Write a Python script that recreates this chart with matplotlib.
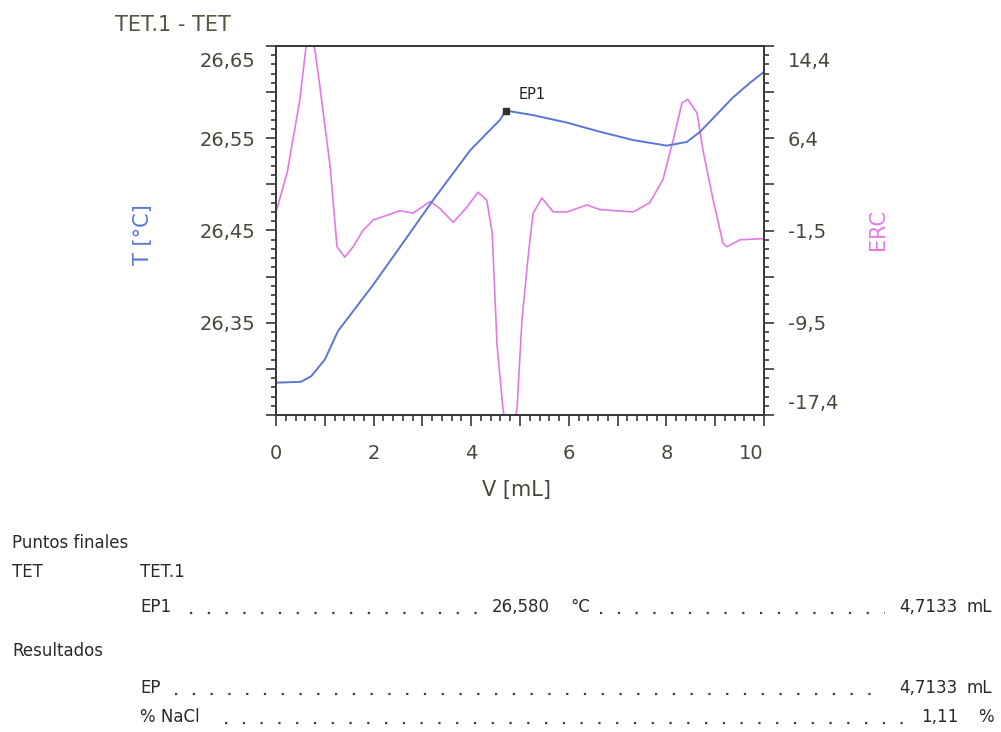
import numpy as np
import matplotlib
matplotlib.use('Agg')
import matplotlib.pyplot as plt
import matplotlib.transforms as mtransforms
from matplotlib.lines import Line2D
from matplotlib.ticker import FixedLocator, FixedFormatter, FuncFormatter, MultipleLocator, AutoMinorLocator

# temperature curve T [°C] vs volume V [mL]
vol_t = [0.0, 0.51, 0.72, 1.0, 1.27, 1.99, 2.54, 3.22, 3.98, 4.59, 4.7133,
         5.27, 5.96, 6.64, 7.32, 8.01, 8.42, 8.69, 9.36, 9.71, 10.0]
temp = [26.285, 26.286, 26.292, 26.310, 26.341, 26.391, 26.432, 26.483, 26.537, 26.570, 26.580,
        26.575, 26.567, 26.557, 26.548, 26.542, 26.546, 26.557, 26.594, 26.610, 26.622]

# ERC curve vs volume
vol_erc = [0.0, 0.23, 0.49, 0.66, 0.80, 0.90, 1.11, 1.25, 1.41, 1.58, 1.78, 1.99, 2.54, 2.81,
           3.16, 3.36, 3.63, 3.91, 4.14, 4.32, 4.43, 4.53, 4.65, 4.75, 4.84, 4.94, 5.04, 5.18,
           5.27, 5.45, 5.68, 5.96, 6.37, 6.64, 7.32, 7.66, 7.93, 8.14, 8.32, 8.44, 8.63, 8.75,
           8.96, 9.16, 9.24, 9.51, 10.0]
erc = [0.1, 3.5, 9.8, 16.0, 14.0, 10.9, 4.0, -2.9, -3.8, -2.9, -1.5, -0.6, 0.2, 0.0,
       1.0, 0.4, -0.8, 0.5, 1.8, 1.1, -1.7, -11.4, -16.8, -19.5, -19.5, -16.8, -9.2, -3.2,
       0.0, 1.3, 0.1, 0.1, 0.7, 0.3, 0.1, 0.9, 2.9, 6.3, 9.5, 9.8, 8.6, 5.4,
       1.1, -2.6, -2.9, -2.3, -2.2]

ep_vol = 4.7133
ep_temp = 26.580

t_ticks = [26.65, 26.55, 26.45, 26.35]
t_labels = ['26,65', '26,55', '26,45', '26,35']
erc_labels = ['14,4', '6,4', '-1,5', '-9,5', '-17,4']

W, H = 1001, 732


def fx(px):
    return px / W


def fy(py):
    return 1 - py / H


fig = plt.figure(figsize=(W / 100, H / 100), dpi=100)
fig.patch.set_facecolor('white')

ax = fig.add_axes([fx(276), fy(415), (764 - 276) / W, (415 - 46) / H])
ax2 = ax.twinx()
ax.set_zorder(ax2.get_zorder() + 1)
ax.patch.set_visible(False)

blue = '#5b77d6'
pink = '#e27ae6'
txt = '#4a473a'
spine_c = '#3a3a3a'

ax2.plot(vol_erc, erc, color=pink, lw=1.2)
ax.plot(vol_t, temp, color=blue, lw=1.4)
ax.plot([ep_vol], [ep_temp], marker='s', ms=5, color='#2e2e2e', zorder=5)
ax.annotate('EP1', (ep_vol, ep_temp), xytext=(9, 8), textcoords='offset points',
            fontsize=10.5, color='#222222')

ax.set_xlim(0, 10)
ax.set_ylim(26.25, 26.65)
ax2.set_ylim(-17.4, 14.4)

# x axis: long ticks every 1 mL, labels on even values
ax.xaxis.set_major_locator(MultipleLocator(1))
ax.xaxis.set_minor_locator(MultipleLocator(0.2))
ax.xaxis.set_major_formatter(FuncFormatter(
    lambda v, p: '%d' % round(v) if round(v) % 2 == 0 else ''))

# left axis: long ticks every 0.05, labels every 0.1
left_pos = np.linspace(26.25, 26.65, 9)
ax.yaxis.set_major_locator(FixedLocator(left_pos))
ax.yaxis.set_minor_locator(AutoMinorLocator(5))
left_lab = []
for v in left_pos:
    hit = [l for t, l in zip(t_ticks, t_labels) if abs(t - v) < 1e-6]
    left_lab.append(hit[0] if hit else '')
ax.yaxis.set_major_formatter(FixedFormatter(left_lab))

# right axis
ax2.yaxis.set_major_locator(FixedLocator(np.linspace(-17.4, 14.4, 9)))
ax2.yaxis.set_minor_locator(AutoMinorLocator(5))
right_lab = []
for i in range(9):
    right_lab.append(erc_labels[::-1][i // 2] if i % 2 == 0 else '')
ax2.yaxis.set_major_formatter(FixedFormatter(right_lab))

for a in (ax, ax2):
    for s in a.spines.values():
        s.set_color(spine_c)
        s.set_linewidth(1.4)
ax.tick_params(axis='x', which='major', direction='out', length=8, width=1.2,
               color=spine_c, labelsize=14, labelcolor=txt, pad=13)
ax.tick_params(axis='x', which='minor', direction='out', length=4.5, width=1.2, color=spine_c)
ax.tick_params(axis='y', which='major', direction='out', length=7, width=1.2,
               color='#33334a', labelsize=14, labelcolor=txt, pad=8)
ax.tick_params(axis='y', which='minor', direction='out', length=3.5, width=1.2, color='#33334a')
ax2.tick_params(axis='y', which='major', direction='out', length=7, width=1.2,
                color=spine_c, labelsize=14, labelcolor=txt, pad=10)
ax2.tick_params(axis='y', which='minor', direction='out', length=3.5, width=1.2, color=spine_c)

# push the end labels inside the axis span as in the reference
fig.canvas.draw()
down = mtransforms.ScaledTranslation(0, -6 / 100, fig.dpi_scale_trans)
up = mtransforms.ScaledTranslation(0, 2 / 100, fig.dpi_scale_trans)
for lab in ax.get_yticklabels():
    if lab.get_text() == '26,65':
        lab.set_verticalalignment('top')
        lab.set_transform(lab.get_transform() + down)
for lab in ax2.get_yticklabels():
    if lab.get_text() == '14,4':
        lab.set_verticalalignment('top')
        lab.set_transform(lab.get_transform() + down)
    if lab.get_text() == '-17,4':
        lab.set_verticalalignment('bottom')
        lab.set_transform(lab.get_transform() + up)
for lab in ax.get_xticklabels():
    if lab.get_text() == '10':
        lab.set_horizontalalignment('right')

# axis titles
fig.text(fx(115), fy(25), 'TET.1 - TET', fontsize=15, color='#5a5442', va='center', ha='left')
fig.text(fx(516), fy(490), 'V [mL]', fontsize=15, color=txt, ha='center', va='center')
fig.text(fx(143), fy(235), 'T [°C]', fontsize=15, color=blue, rotation=90, ha='center', va='center')
fig.text(fx(878), fy(230), 'ERC', fontsize=15, color=pink, rotation=90, ha='center', va='center')

# results block
dark = '#2a2a2a'
fs = 12


def row_text(x, y, s, ha='left'):
    fig.text(fx(x), fy(y), s, fontsize=fs, color=dark, ha=ha, va='center')


def dots(x0, x1, y):
    fig.add_artist(Line2D([fx(x0), fx(x1)], [fy(y), fy(y)], transform=fig.transFigure,
                          color='#3a3a4a', lw=1.6, linestyle=(0, (1, 7))))


row_text(12, 543, 'Puntos finales')
row_text(12, 572, 'TET')
row_text(140, 572, 'TET.1')
row_text(140, 607, 'EP1')
dots(190, 478, 613)
row_text(550, 607, '26,580', ha='right')
row_text(570, 607, '°C')
dots(600, 885, 613)
row_text(958, 607, '4,7133', ha='right')
row_text(967, 607, 'mL')

row_text(12, 651, 'Resultados')
row_text(140, 688, 'EP')
dots(175, 885, 694)
row_text(958, 688, '4,7133', ha='right')
row_text(967, 688, 'mL')
row_text(140, 717, '% NaCl')
dots(225, 915, 723)
row_text(958, 717, '1,11', ha='right')
row_text(978, 717, '%')

fig.savefig('out.png', dpi=100, facecolor='white')
